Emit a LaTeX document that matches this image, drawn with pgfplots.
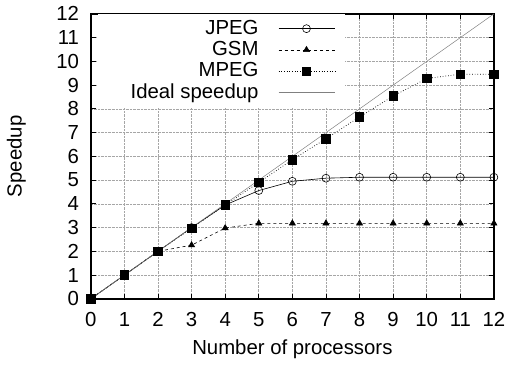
\documentclass[border=0pt]{standalone}
\usepackage{pgfplots}
\pgfplotsset{compat=1.18}
\usepackage{fontspec}
\setmainfont{Liberation Sans}
\begin{document}
\fontsize{20.5}{22}\selectfont
\begin{tikzpicture}
\begin{axis}[
  scale only axis, width=406pt, height=287pt,
  xmin=0, xmax=12, ymin=0, ymax=12,
  xtick={0,...,12}, ytick={0,...,12},
  tick align=inside,
  major tick length=5pt,
  grid=major,
  grid style={densely dotted, gray!70, line width=0.6pt},
  axis line style={line width=1.4pt},
  tick style={black, line width=0.8pt},
  /pgf/number format/assume math mode=true,
  ticklabel style={font=\fontsize{20.5}{22}\selectfont},
  xticklabel style={anchor=base, yshift=-28pt},
  yticklabel style={xshift=-5pt},
  xlabel={Number of processors}, ylabel={Speedup},
  every axis x label/.style={at={(axis description cs:0.5,-0.195)}, anchor=base, font=\fontsize{20.5}{22}\selectfont},
  every axis y label/.style={at={(axis description cs:-0.185,0.5)}, rotate=90, anchor=center, font=\fontsize{20.5}{22}\selectfont},
  legend style={at={(axis description cs:0.63,1)}, anchor=north east, draw=none, fill=white,
    font=\fontsize{20.5}{22}\selectfont, row sep=0pt, column sep=18pt, inner xsep=9pt, inner ysep=4pt},
  legend cell align=right,
  legend plot pos=right,
  legend image code/.code={\draw[mark repeat=2,mark phase=2] plot coordinates {(0pt,0pt)(28pt,0pt)(57pt,0pt)};},
]
\addplot[black, line width=0.6pt, mark=o, mark size=4pt, mark options={solid, fill=white, line width=0.6pt}]
  coordinates {(0,0)(1,1)(2,2)(3,3)(4,3.95)(5,4.56)(6,4.95)(7,5.08)(8,5.12)(9,5.12)(10,5.12)(11,5.12)(12,5.12)};
\addlegendentry{JPEG}
\addplot[black, line width=0.6pt, dashed, mark=triangle*, mark size=3.5pt, mark options={solid}]
  coordinates {(0,0)(1,1)(2,2)(3,2.26)(4,2.98)(5,3.18)(6,3.18)(7,3.18)(8,3.18)(9,3.18)(10,3.18)(11,3.18)(12,3.18)};
\addlegendentry{GSM}
\addplot[black, line width=0.7pt, dotted, mark=square*, mark size=4.3pt, mark options={solid}]
  coordinates {(0,0)(1,1)(2,2)(3,2.97)(4,3.95)(5,4.9)(6,5.86)(7,6.74)(8,7.66)(9,8.54)(10,9.28)(11,9.46)(12,9.46)};
\addlegendentry{MPEG}
\addplot[gray, line width=0.5pt]
  coordinates {(0,0)(1,1)(2,2)(3,3)(4,4)(5,5)(6,6)(7,7)(8,8)(9,9)(10,10)(11,11)(12,12)};
\addlegendentry{\hspace*{22pt}Ideal speedup}
\end{axis}
\end{tikzpicture}
\end{document}
